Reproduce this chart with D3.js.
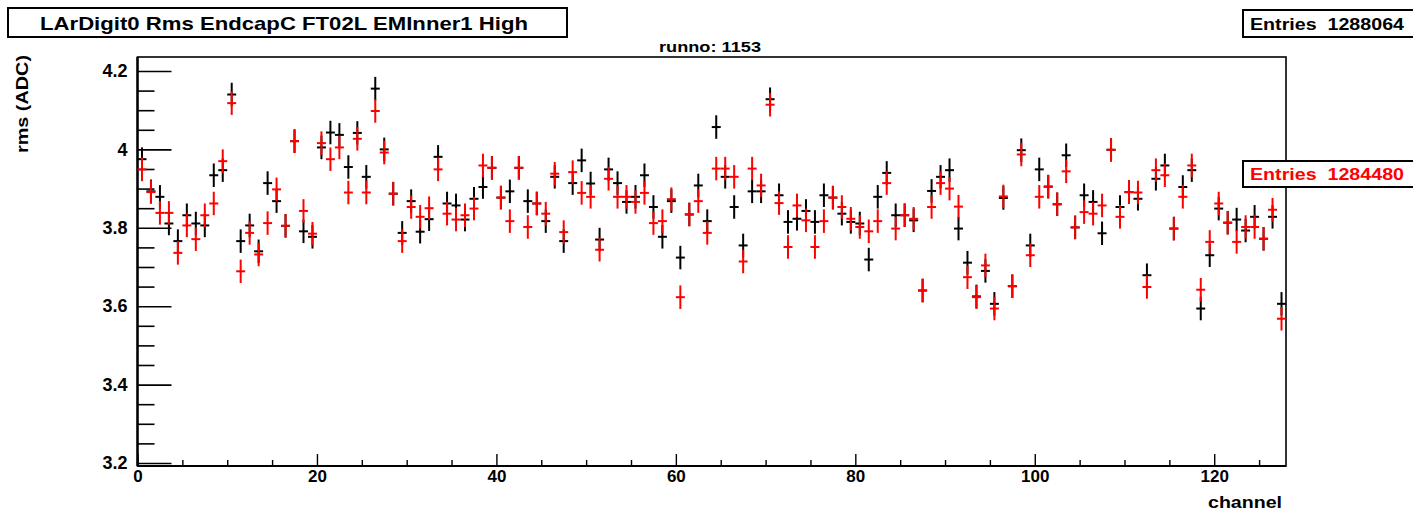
<!DOCTYPE html>
<html>
<head>
<meta charset="utf-8">
<script src="https://cdn.jsdelivr.net/npm/d3@7"></script>
<style>
  html, body { margin: 0; padding: 0; background: #fff; }
  svg { display: block; }
  text { font-family: "Liberation Sans", Arial, Helvetica, sans-serif; font-weight: bold; }
</style>
</head>
<body>
<svg id="chart" width="1413" height="511"></svg>
<script>
// Per-channel RMS (ADC counts), two runs, 128 channels
const channels = d3.range(128);

const rmsBlack = [
  3.975, 3.893, 3.879, 3.811, 3.766, 3.832, 3.811, 3.806, 3.934, 3.947,
  4.140, 3.766, 3.806, 3.740, 3.914, 3.868, 3.805, 4.021, 3.791, 3.777,
  4.005, 4.043, 4.037, 3.955, 4.042, 3.930, 4.155, 4.000, 3.887, 3.787,
  3.868, 3.790, 3.822, 3.981, 3.862, 3.857, 3.821, 3.874, 3.904, 3.953,
  3.877, 3.893, 3.953, 3.868, 3.862, 3.817, 3.930, 3.766, 3.914, 3.972,
  3.913, 3.770, 3.949, 3.914, 3.866, 3.879, 3.934, 3.853, 3.777, 3.868,
  3.724, 3.834, 3.908, 3.817, 4.057, 3.930, 3.853, 3.755, 3.893, 3.893,
  4.128, 3.883, 3.815, 3.823, 3.843, 3.815, 3.883, 3.877, 3.836, 3.815,
  3.811, 3.719, 3.879, 3.940, 3.832, 3.832, 3.819, 3.640, 3.894, 3.930,
  3.947, 3.798, 3.711, 3.625, 3.690, 3.606, 3.876, 3.651, 3.998, 3.755,
  3.949, 3.905, 3.860, 3.985, 3.801, 3.883, 3.866, 3.786, 3.999, 3.853,
  3.891, 3.874, 3.679, 3.925, 3.959, 3.798, 3.904, 3.947, 3.594, 3.730,
  3.849, 3.813, 3.821, 3.793, 3.828, 3.772, 3.828, 3.606
];

const rmsRed = [
  3.949, 3.891, 3.838, 3.838, 3.736, 3.806, 3.771, 3.832, 3.862, 3.970,
  4.118, 3.689, 3.787, 3.732, 3.812, 3.898, 3.805, 4.021, 3.843, 3.785,
  4.016, 3.975, 4.005, 3.890, 4.027, 3.890, 4.098, 3.992, 3.887, 3.766,
  3.853, 3.828, 3.850, 3.949, 3.836, 3.821, 3.832, 3.849, 3.959, 3.953,
  3.877, 3.817, 3.953, 3.802, 3.862, 3.836, 3.938, 3.789, 3.942, 3.889,
  3.879, 3.744, 3.925, 3.879, 3.879, 3.866, 3.889, 3.812, 3.817, 3.873,
  3.623, 3.834, 3.868, 3.787, 3.951, 3.951, 3.930, 3.714, 3.951, 3.908,
  4.114, 3.863, 3.751, 3.857, 3.819, 3.751, 3.817, 3.877, 3.853, 3.823,
  3.802, 3.791, 3.817, 3.914, 3.798, 3.832, 3.823, 3.640, 3.853, 3.914,
  3.900, 3.854, 3.674, 3.623, 3.704, 3.594, 3.880, 3.651, 3.987, 3.730,
  3.879, 3.905, 3.860, 3.944, 3.801, 3.840, 3.836, 3.857, 3.999, 3.828,
  3.891, 3.890, 3.649, 3.947, 3.934, 3.798, 3.879, 3.959, 3.642, 3.764,
  3.862, 3.813, 3.764, 3.802, 3.802, 3.772, 3.846, 3.568
];

// Statistical uncertainty on each RMS value
const errBlack = 0.03;
const errRed = 0.03;

const xTickValues = [0, 20, 40, 60, 80, 100, 120];
const yTickValues = [3.2, 3.4, 3.6, 3.8, 4.0, 4.2];
const yTickLabels = ["3.2", "3.4", "3.6", "3.8", "4", "4.2"];

const titleText = "LArDigit0 Rms EndcapC FT02L EMInner1 High";
const subTitle = "runno: 1153";
const entriesBlack = "Entries  1288064";
const entriesRed = "Entries  1284480";
const xTitle = "channel";
const yTitle = "rms (ADC)";

// ---- layout ----
const svg = d3.select("#chart");
const frame = { left: 137.5, right: 1286, top: 57, bottom: 466 };

const x = d3.scaleLinear().domain([0, 128]).range([frame.left, frame.right]);
const y = d3.scaleLinear().domain([3.1923, 4.2357]).range([frame.bottom, frame.top]);

// plot frame
svg.append("rect")
  .attr("x", frame.left).attr("y", frame.top)
  .attr("width", frame.right - frame.left).attr("height", frame.bottom - frame.top)
  .attr("fill", "none").attr("stroke", "#000").attr("stroke-width", 1.6);

// ---- y axis ----
const yMinor = d3.range(3.2, 4.2351, 0.05).filter(v => !yTickValues.some(t => Math.abs(t - v) < 1e-6));
svg.append("g")
  .attr("transform", `translate(${frame.left},0)`)
  .call(d3.axisLeft(y).tickValues(yMinor).tickSize(-17).tickFormat(""))
  .call(g => g.select(".domain").remove())
  .call(g => g.selectAll("line").attr("stroke-width", 1.6));

const yAxis = svg.append("g")
  .attr("transform", `translate(${frame.left},0)`)
  .call(d3.axisLeft(y).tickValues(yTickValues).tickSize(-34).tickPadding(10)
    .tickFormat((d, i) => yTickLabels[i]));
yAxis.select(".domain").remove();
yAxis.selectAll("line").attr("stroke-width", 1.6);
yAxis.selectAll("text").attr("font-size", 18).attr("fill", "#000")
  .attr("font-family", "Liberation Sans, Arial, sans-serif");

svg.append("line")
  .attr("x1", frame.left).attr("x2", frame.left)
  .attr("y1", frame.top).attr("y2", frame.bottom)
  .attr("stroke", "#000").attr("stroke-width", 2.4);

// ---- x axis ----
const xMinor = d3.range(0, 128.01, 5).filter(v => v % 20 !== 0);
svg.append("g")
  .attr("transform", `translate(0,${frame.bottom})`)
  .call(d3.axisBottom(x).tickValues(xMinor).tickSize(-6).tickFormat(""))
  .call(g => g.select(".domain").remove())
  .call(g => g.selectAll("line").attr("stroke-width", 1.4));

const xAxis = svg.append("g")
  .attr("transform", `translate(0,${frame.bottom})`)
  .call(d3.axisBottom(x).tickValues(xTickValues).tickSize(-12).tickPadding(4).tickFormat(d3.format("d")));
xAxis.select(".domain").remove();
xAxis.selectAll("line").attr("stroke-width", 1.4);
xAxis.selectAll("text").attr("font-size", 17).attr("fill", "#000")
  .attr("font-family", "Liberation Sans, Arial, sans-serif");

svg.append("line")
  .attr("x1", frame.left).attr("x2", frame.right)
  .attr("y1", frame.bottom).attr("y2", frame.bottom)
  .attr("stroke", "#000").attr("stroke-width", 2);

// ---- axis titles ----
svg.append("text")
  .attr("x", 1282).attr("y", 508)
  .attr("text-anchor", "end").attr("font-size", 16)
  .attr("textLength", 74).attr("lengthAdjust", "spacingAndGlyphs")
  .text(xTitle);

svg.append("text")
  .attr("transform", "translate(28,55) rotate(-90)")
  .attr("text-anchor", "end").attr("font-size", 16)
  .attr("textLength", 98).attr("lengthAdjust", "spacingAndGlyphs")
  .text(yTitle);

// ---- data: error crosses ----
function drawSeries(values, err, color) {
  const g = svg.append("g").attr("stroke", color).attr("stroke-width", 2).attr("fill", "none");
  g.selectAll("line.h").data(channels).join("line")
    .attr("class", "h")
    .attr("x1", d => x(d)).attr("x2", d => x(d + 1))
    .attr("y1", d => y(values[d])).attr("y2", d => y(values[d]));
  g.selectAll("line.v").data(channels).join("line")
    .attr("class", "v")
    .attr("x1", d => x(d + 0.5)).attr("x2", d => x(d + 0.5))
    .attr("y1", d => y(values[d] - err)).attr("y2", d => y(values[d] + err));
}
drawSeries(rmsBlack, errBlack, "#000");
drawSeries(rmsRed, errRed, "#ff0000");

// ---- title, run number, stats boxes ----
svg.append("rect")
  .attr("x", 8).attr("y", 8).attr("width", 559).attr("height", 29)
  .attr("fill", "#fff").attr("stroke", "#000").attr("stroke-width", 2);
svg.append("text")
  .attr("x", 40).attr("y", 30).attr("font-size", 19)
  .attr("textLength", 488).attr("lengthAdjust", "spacingAndGlyphs")
  .text(titleText);

svg.append("text")
  .attr("x", 659).attr("y", 52).attr("font-size", 14)
  .attr("textLength", 102).attr("lengthAdjust", "spacingAndGlyphs")
  .text(subTitle);

svg.append("rect")
  .attr("x", 1243).attr("y", 10).attr("width", 180).attr("height", 27)
  .attr("fill", "#fff").attr("stroke", "#000").attr("stroke-width", 2);
svg.append("text")
  .attr("x", 1250).attr("y", 30).attr("font-size", 17)
  .style("white-space", "pre")
  .attr("textLength", 154).attr("lengthAdjust", "spacingAndGlyphs")
  .text(entriesBlack);

svg.append("rect")
  .attr("x", 1243).attr("y", 161).attr("width", 180).attr("height", 26)
  .attr("fill", "#fff").attr("stroke", "#000").attr("stroke-width", 2);
svg.append("text")
  .attr("x", 1250).attr("y", 180).attr("font-size", 17).attr("fill", "#ff0000")
  .style("white-space", "pre")
  .attr("textLength", 154).attr("lengthAdjust", "spacingAndGlyphs")
  .text(entriesRed);
</script>
</body>
</html>
